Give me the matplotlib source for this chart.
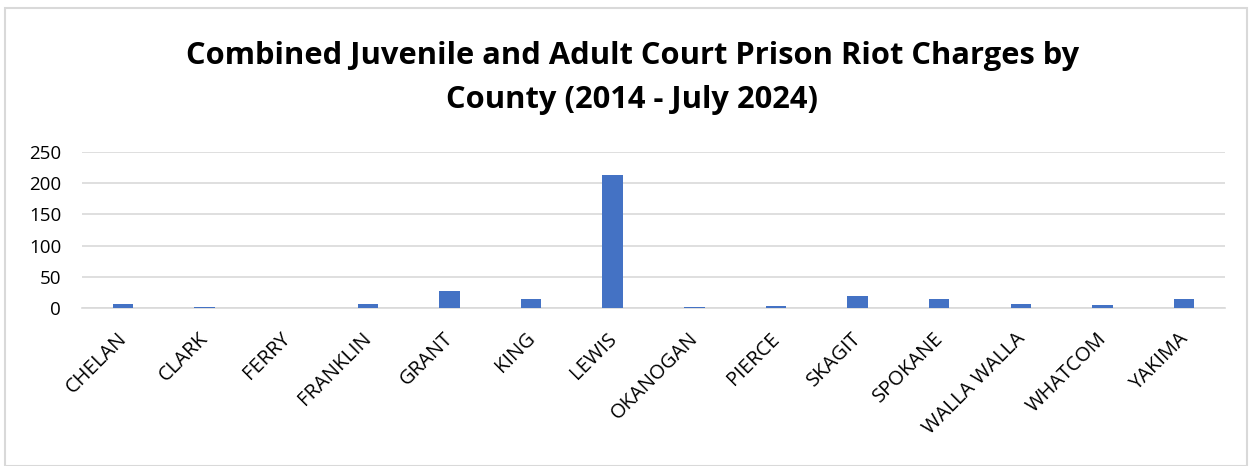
import matplotlib
matplotlib.use("Agg")
import matplotlib.pyplot as plt
import matplotlib.transforms as mtransforms
from matplotlib.patches import Rectangle

counties = ["CHELAN", "CLARK", "FERRY", "FRANKLIN", "GRANT", "KING", "LEWIS",
            "OKANOGAN", "PIERCE", "SKAGIT", "SPOKANE", "WALLA WALLA", "WHATCOM", "YAKIMA"]
charges = [6, 2, 0, 6, 28, 14, 213, 2, 4, 20, 14, 6, 5, 15]
yticks = [0, 50, 100, 150, 200, 250]
title = "Combined Juvenile and Adult Court Prison Riot Charges by\nCounty (2014 - July 2024)"

plt.rcParams['font.family'] = ['Open Sans', 'DejaVu Sans']

fig = plt.figure(figsize=(12.52, 4.66), dpi=100)
fig.patches.append(Rectangle((5/1252, 0), 1 - 10/1252, 1 - 8/466, transform=fig.transFigure,
                             fill=False, edgecolor='#d9d9d9', linewidth=1.5))

ax = fig.add_axes([82/1252, 1 - 308/466, (1225-82)/1252, (308-152)/466])
x = list(range(len(counties)))
ax.bar(x, charges, width=0.25, color='#4472c4', zorder=3)
ax.set_xlim(-0.5, len(counties) - 0.5)
ax.set_ylim(0, 250)
ax.set_yticks(yticks)
ax.set_yticklabels([str(v) for v in yticks], fontsize=13.5)
ax.set_xticks(x)
ax.set_xticklabels(counties, rotation=45, ha='right', rotation_mode='anchor', fontsize=14.5)
ax.tick_params(axis='x', length=0, pad=15)
ax.tick_params(axis='y', length=0, pad=15)
offset = mtransforms.ScaledTranslation(-6/100, 0, fig.dpi_scale_trans)
for lbl in ax.get_xticklabels():
    lbl.set_transform(lbl.get_transform() + offset)
ax.grid(axis='y', color='#d9d9d9', linewidth=1.2, zorder=0)
for s in ['top', 'right', 'left']:
    ax.spines[s].set_visible(False)
ax.spines['bottom'].set_color('#d9d9d9')
ax.spines['bottom'].set_linewidth(1.2)

fig.text(0.505, 1 - 78/466, title, ha='center', va='center', fontsize=22.2,
         fontweight='bold', linespacing=1.6)

fig.savefig("out.png", dpi=100)
